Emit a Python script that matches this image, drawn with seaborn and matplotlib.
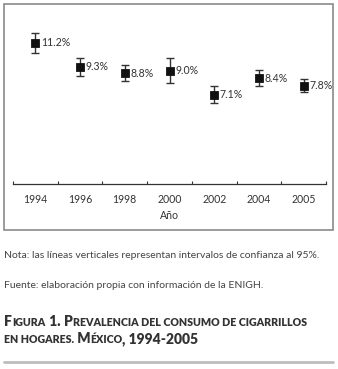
import matplotlib
matplotlib.use("Agg")
import matplotlib.pyplot as plt
import seaborn as sns
import pandas as pd
import numpy as np
from matplotlib.patches import Rectangle
from matplotlib.lines import Line2D

# ---- data ----
years = ["1994", "1996", "1998", "2000", "2002", "2004", "2005"]
prevalence = [11.2, 9.3, 8.8, 9.0, 7.1, 8.4, 7.8]
ci_half = [0.79, 0.73, 0.63, 1.0, 0.66, 0.62, 0.52]
labels = ["11.2%", "9.3%", "8.8%", "9.0%", "7.1%", "8.4%", "7.8%"]
x_label = "Año"
note_text = "Nota: las líneas verticales representan intervalos de confianza al 95%."
source_text = "Fuente: elaboración propia con información de la ENIGH."

sns.set_theme(style="white")
plt.rcParams["font.family"] = ["Lato", "DejaVu Sans"]

W, H = 338, 369
fig = plt.figure(figsize=(W / 100, H / 100), dpi=100)

def fx(px):
    return px / W

def fy(py):
    return 1 - py / H

ax_left, ax_right, ax_top, ax_bottom = 13, 326, 5, 184
ax = fig.add_axes([fx(ax_left), fy(ax_bottom), (ax_right - ax_left) / W, (ax_bottom - ax_top) / H])

df = pd.DataFrame({"year": years, "value": prevalence})
sns.pointplot(data=df, x="year", y="value", order=years, markers="s", linestyles="none",
              color="#111111", errorbar=None, markersize=3.8, ax=ax)
xpos = np.arange(len(years))
ax.errorbar(xpos, prevalence, yerr=ci_half, fmt="none", ecolor="#333333",
            elinewidth=1.0, capsize=3.0, capthick=1.0, zorder=1)
for xi, v, lab in zip(xpos, prevalence, labels):
    ax.annotate(lab, (xi, v), xytext=(4.0, 0), textcoords="offset points",
                ha="left", va="center", fontsize=7.6, color="#333333")

ax.set_xlim(-0.5, len(years) - 0.5)
ax.set_ylim(0, (ax_bottom - ax_top) / 12.6)
ax.set_yticks([])
ax.set_ylabel("")
for s in ["left", "top", "right"]:
    ax.spines[s].set_visible(False)
ax.spines["bottom"].set_color("#333333")
ax.spines["bottom"].set_linewidth(0.9)
ax.set_xticks(np.arange(-0.5, len(years)), minor=True)
ax.tick_params(axis="x", which="major", length=0, pad=7, labelsize=7.6, labelcolor="#333333")
ax.tick_params(axis="x", which="minor", direction="in", length=2, width=0.8, color="#333333", bottom=True)
ax.set_xlabel(x_label, fontsize=7.6, color="#333333", labelpad=4)
ax.patch.set_alpha(0)

# outer frame
fig.patches.append(Rectangle((fx(4), fy(230)), (333 - 4) / W, (230 - 4) / H, transform=fig.transFigure,
                             fill=False, edgecolor="#8a8a8a", linewidth=1.2))
# bottom rule
fig.lines.append(Line2D([fx(4), fx(333)], [fy(362), fy(362)], transform=fig.transFigure,
                        color="#bdbdbd", linewidth=2.0))

fig.text(fx(4), fy(256), note_text, fontsize=7.45, color="#444444", va="center", ha="left")
fig.text(fx(4), fy(285), source_text, fontsize=7.45, color="#444444", va="center", ha="left")

# small-caps title
big, small = 10.0, 7.7
title_lines = [
    [("F", big, 0.3), ("IGURA", small, 0.3), (" 1. ", big, 0.3), ("P", big, 0.3),
     ("REVALENCIA DEL CONSUMO DE CIGARRILLOS", small, 0.3)],
    [("EN HOGARES.", small, 0.3), (" M", big, -0.6), ("ÉXICO", small, 0.0), (", 1994-2005", big, 0.0)],
]
title_y = [326, 343]
fig.canvas.draw()
renderer = fig.canvas.get_renderer()
for segs, yb in zip(title_lines, title_y):
    xcur = 4.0
    for txt, sz, gap in segs:
        t = fig.text(fx(xcur), fy(yb), txt, fontsize=sz, fontweight="heavy",
                     color="#333333", va="baseline", ha="left")
        bb = t.get_window_extent(renderer=renderer)
        xcur += bb.width + gap

fig.savefig("out.png", dpi=100)
